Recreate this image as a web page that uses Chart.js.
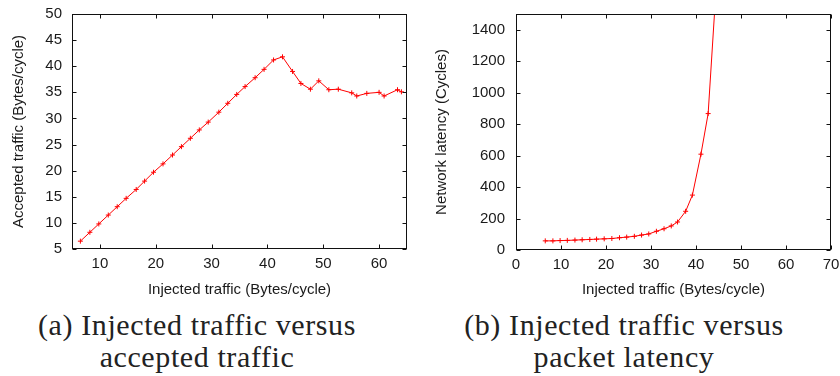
<!DOCTYPE html>
<html>
<head>
<meta charset="utf-8">
<script src="https://cdn.jsdelivr.net/npm/chart.js@4.4.1/dist/chart.umd.min.js"></script>
<style>
  body { margin: 0; background: #fff; }
  #wrap { position: relative; width: 840px; height: 376px; overflow: hidden; }
  canvas { position: absolute; top: 0; }
  .cap {
    position: absolute; top: 309px; text-align: center;
    font-family: "Liberation Serif", serif; font-size: 30px; line-height: 32px;
    letter-spacing: 0.6px; color: #222;
  }
</style>
</head>
<body>
<div id="wrap">
  <canvas id="accepted" width="420" height="300" style="left:0"></canvas>
  <canvas id="latency" width="420" height="300" style="left:420px"></canvas>
  <div class="cap" style="left:0;width:394px">(a) Injected traffic versus<br>accepted traffic</div>
  <div class="cap" style="left:424px;width:400px">(b) Injected traffic versus<br>packet latency</div>
</div>
<script>
// (a) injected vs accepted traffic
var leftInjected = [6.5, 8.2, 9.8, 11.5, 13.1, 14.7, 16.5, 18.0, 19.6, 21.3, 23.0, 24.6,
  26.2, 27.8, 29.4, 31.3, 32.9, 34.5, 36.0, 37.8, 39.4, 41.1, 42.7, 44.5,
  46.0, 47.7, 49.2, 51.0, 52.7, 55.1, 56.0, 57.8, 60.0, 60.9, 63.3, 64.0];
var leftAccepted = [6.5, 8.2, 9.8, 11.5, 13.1, 14.7, 16.4, 18.0, 19.7, 21.3, 23.0, 24.6,
  26.2, 27.8, 29.3, 31.2, 32.9, 34.6, 36.1, 37.8, 39.4, 41.2, 41.8, 39.0,
  36.7, 35.6, 37.2, 35.5, 35.6, 34.9, 34.3, 34.8, 35.0, 34.3, 35.5, 35.1];
var leftXTicks = [10, 20, 30, 40, 50, 60];
var leftYTicks = [5, 10, 15, 20, 25, 30, 35, 40, 45, 50];

// (b) injected traffic vs latency
var rightInjected = [6.5, 8.2, 9.8, 11.4, 13.1, 14.7, 16.4, 17.9, 19.6, 21.3, 23.0, 24.6,
  26.3, 27.9, 29.5, 31.2, 32.9, 34.5, 35.9, 37.7, 39.2, 41.1, 42.7, 44.5];
var rightLatency = [58, 58, 60, 61, 63, 65, 67, 69, 71, 73, 78, 82,
  87, 95, 102, 119, 135, 153, 178, 246, 349, 609, 867, 1680];
var rightXTicks = [0, 10, 20, 30, 40, 50, 60, 70];
var rightYTicks = [0, 200, 400, 600, 800, 1000, 1200, 1400];

var textColor = '#1a1a1a';
var sans = { family: '"Liberation Sans", Arial, sans-serif', size: 15 };

// gnuplot-like box with inward ticks on all four sides
var frame = {
  id: 'frame',
  afterDraw: function(chart) {
    var ctx = chart.ctx, a = chart.chartArea;
    var x = chart.scales.x, y = chart.scales.y;
    var L = Math.round(a.left) + 0.5, R = Math.round(a.right) - 0.5;
    var T = Math.round(a.top) + 0.5, B = Math.round(a.bottom) - 0.5;
    var len = 4;
    ctx.save();
    ctx.strokeStyle = '#111';
    ctx.lineWidth = 1;
    ctx.beginPath();
    x.ticks.forEach(function(t) {
      var px = Math.round(x.getPixelForValue(t.value)) + 0.5;
      ctx.moveTo(px, B); ctx.lineTo(px, B - len);
      ctx.moveTo(px, T); ctx.lineTo(px, T + len);
    });
    y.ticks.forEach(function(t) {
      var py = Math.round(y.getPixelForValue(t.value)) + 0.5;
      ctx.moveTo(L, py); ctx.lineTo(L + len, py);
      ctx.moveTo(R, py); ctx.lineTo(R - len, py);
    });
    ctx.stroke();
    ctx.strokeRect(L, T, R - L, B - T);
    ctx.restore();
  }
};

function plain(v) { return String(v); }

function makeChart(id, xs, ys, opt) {
  var pts = xs.map(function(v, i) { return { x: v, y: ys[i] }; });
  return new Chart(document.getElementById(id), {
    type: 'line',
    data: {
      datasets: [{
        data: pts,
        borderColor: '#ff0000',
        borderWidth: 1,
        backgroundColor: '#ff0000',
        pointStyle: 'cross',
        pointRadius: 2.5,
        pointBorderWidth: 1,
        pointBorderColor: '#ff0000',
        tension: 0,
        fill: false
      }]
    },
    options: {
      responsive: false,
      animation: false,
      events: [],
      layout: { padding: { left: 0, top: 14, right: opt.padRight, bottom: 0 } },
      plugins: { legend: { display: false }, tooltip: { enabled: false } },
      scales: {
        x: {
          type: 'linear', min: opt.xMin, max: opt.xMax,
          grid: { display: false, drawTicks: false },
          border: { display: false },
          ticks: { padding: 6, color: textColor, font: sans, maxRotation: 0, autoSkip: false, callback: plain },
          title: { display: true, text: 'Injected traffic (Bytes/cycle)', color: textColor, font: sans,
                   padding: { top: 0, bottom: 1 } },
          afterBuildTicks: function(s) { s.ticks = opt.xTicks.map(function(v) { return { value: v }; }); },
          afterFit: function(s) { s.height = opt.xHeight; s.paddingLeft = 0; s.paddingRight = 0; }
        },
        y: {
          type: 'linear', min: opt.yMin, max: opt.yMax,
          grid: { display: false, drawTicks: false },
          border: { display: false },
          ticks: { padding: opt.yTickPad, color: textColor, font: sans, autoSkip: false, callback: plain },
          title: { display: true, text: opt.yTitle, color: textColor, font: sans,
                   padding: { top: opt.yTitlePad, bottom: 0 } },
          afterBuildTicks: function(s) { s.ticks = opt.yTicks.map(function(v) { return { value: v }; }); },
          afterFit: function(s) { s.width = opt.yWidth; s.paddingTop = 0; s.paddingBottom = 0; }
        }
      }
    },
    plugins: [frame]
  });
}

makeChart('accepted', leftInjected, leftAccepted, {
  xMin: 5, xMax: 65, yMin: 5, yMax: 50,
  xTicks: leftXTicks, yTicks: leftYTicks,
  yTitle: 'Accepted traffic (Bytes/cycle)',
  padRight: 13, xHeight: 51, yWidth: 72, yTickPad: 10, yTitlePad: 10
});

makeChart('latency', rightInjected, rightLatency, {
  xMin: 0, xMax: 70, yMin: 0, yMax: 1500,
  xTicks: rightXTicks, yTicks: rightYTicks,
  yTitle: 'Network latency (Cycles)',
  padRight: 9, xHeight: 50, yWidth: 96, yTickPad: 11, yTitlePad: 13
});
</script>
</body>
</html>
